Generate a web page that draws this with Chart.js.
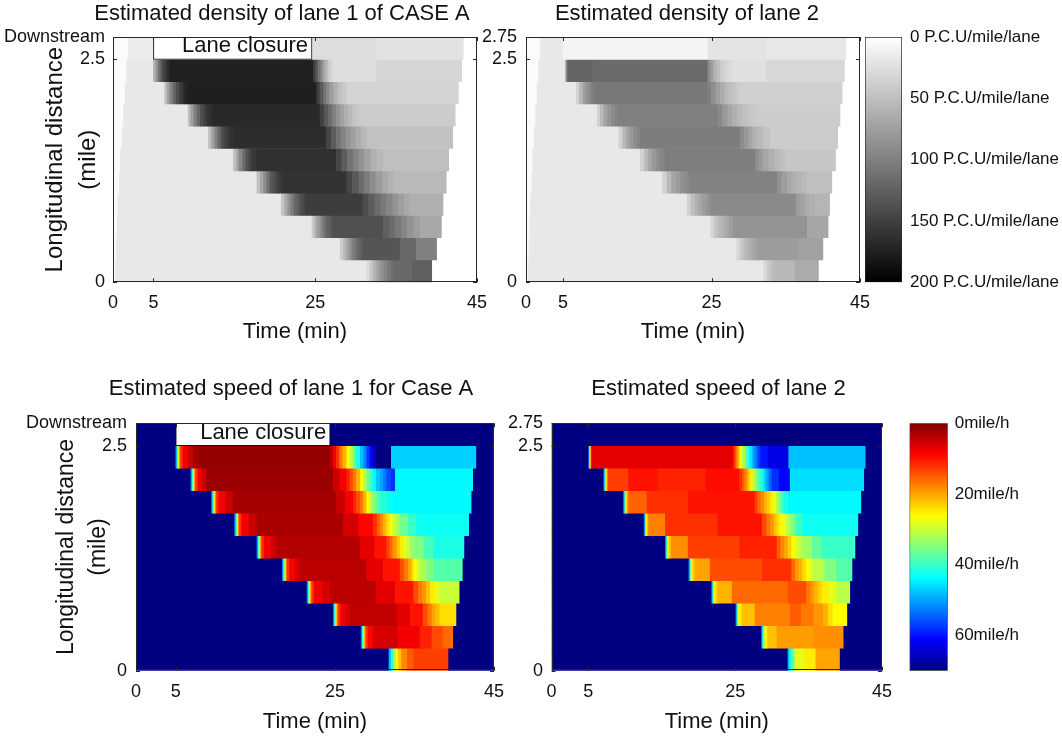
<!DOCTYPE html>
<html>
<head>
<meta charset="utf-8">
<script src="https://cdn.jsdelivr.net/npm/chart.js@4.4.1/dist/chart.umd.min.js"></script>
<style>
  body { margin: 0; background: #fff; }
  #wrap { position: relative; width: 1062px; height: 736px; overflow: hidden; background: #fff; }
  canvas { position: absolute; }
</style>
</head>
<body>
<div id="wrap">
  <canvas id="dens1" width="564" height="345" style="left:0px;top:0px"></canvas>
  <canvas id="dens2" width="414" height="345" style="left:480px;top:0px"></canvas>
  <canvas id="cb1" width="202" height="345" style="left:860px;top:0px"></canvas>
  <canvas id="speed1" width="582" height="386" style="left:0px;top:350px"></canvas>
  <canvas id="speed2" width="477" height="386" style="left:480px;top:350px"></canvas>
  <canvas id="cb2" width="162" height="386" style="left:900px;top:350px"></canvas>
</div>
<script>
// axis ticks
const timeTicks = [0, 5, 25, 45];
const distTicks = [0, 2.5, 2.75];
const densityTicks = [0, 50, 100, 150, 200];
const speedTicks = [0, 20, 40, 60];

// road segments (start mile of each 0.25 mile cell), bottom to top
const segmentMiles = [0, 0.25, 0.5, 0.75, 1, 1.25, 1.5, 1.75, 2, 2.25, 2.5];

// lane closure (minutes), drawn in the top segment
const closureDensity = [5, 24.6];
const closureSpeed = [5, 24.4];

// each row: t0, value, t1, value, ..., tEnd   (minutes; a value holds until the next time)
// density in P.C.U/mile/lane
const densityLane1 = [
  [0,3, 0.3,18, 31.4,30, 31.8,45, 32.2,60, 32.6,72, 33,85, 33.5,96, 33.9,105, 34.3,112, 34.7,118, 37,125, 39.4],
  [0,3, 0.4,18, 28.1,40, 28.5,55, 28.8,70, 29.2,85, 29.5,100, 29.9,110, 30.2,120, 30.6,127, 30.9,133, 35.5,118, 37.5,100, 40],
  [0,3, 0.5,18, 24.6,40, 24.9,58, 25.2,75, 25.6,90, 25.9,105, 26.2,115, 26.5,125, 26.9,132, 27.2,137, 33.4,125, 34.2,115, 34.9,105, 35.7,95, 36.4,85, 37.2,76, 38,68, 40.6],
  [0,3, 0.6,18, 20.8,45, 21.2,65, 21.6,85, 22,103, 22.4,120, 22.8,130, 23.2,140, 23.6,147, 23.9,152, 30.9,140, 31.6,127, 32.4,115, 33.1,105, 33.8,95, 34.6,85, 35.3,75, 36,68, 36.7,62, 40.8],
  [0,3, 0.8,18, 17.8,50, 18.2,70, 18.6,90, 19,110, 19.4,130, 19.8,140, 20.2,150, 20.6,155, 21,160, 28.9,145, 29.6,130, 30.4,115, 31.1,102, 31.8,90, 32.5,78, 33.3,68, 34,61, 34.7,55, 41.2],
  [0,3, 0.9,18, 14.9,50, 15.3,72, 15.6,95, 16,115, 16.4,135, 16.8,145, 17.1,155, 17.5,159, 17.8,162, 27.6,145, 28.3,127, 29,110, 29.7,97, 30.4,85, 31.1,73, 31.9,62, 32.6,56, 33.4,50, 41.5],
  [0,3, 1.1,18, 11.8,50, 12.2,75, 12.6,100, 13,120, 13.4,140, 13.8,150, 14.2,158, 14.6,162, 14.9,165, 26.4,145, 27,127, 27.6,110, 28.2,97, 28.8,85, 29.4,75, 30,65, 30.7,56, 31.4,48, 42],
  [0,3, 1.3,18, 9.3,50, 9.6,75, 10,100, 10.4,120, 10.8,140, 11.2,150, 11.6,160, 12,165, 12.4,168, 25.6,150, 26.1,132, 26.6,115, 27.1,100, 27.6,85, 28.1,73, 28.6,62, 29.1,55, 29.6,48, 30,44, 30.5,40, 42.3],
  [0,3, 1.5,18, 6.4,50, 6.7,72, 7,95, 7.4,118, 7.8,140, 8.2,153, 8.6,165, 8.9,171, 9.2,176, 25.2,150, 25.6,130, 26,110, 26.4,92, 26.8,75, 27.3,62, 27.8,50, 28.3,42, 28.9,34, 42.7],
  [0,3, 1.7,18, 5,60, 5.3,85, 5.6,110, 5.9,132, 6.2,150, 6.6,164, 7,174, 24.8,150, 25.1,130, 25.4,110, 25.7,90, 26,70, 26.3,55, 26.6,40, 26.9,32, 27.2,26, 32.6,32, 43.1],
  [0,3, 1.9,16, 24.6,27, 32.6,23, 43.3]
];

const densityLane2 = [
  [0,3, 0.3,18, 32,30, 32.5,42, 33,50, 33.4,54, 33.9,56, 36.3,66, 39.4],
  [0,3, 0.4,18, 28.4,32, 28.9,45, 29.4,55, 29.9,62, 30.4,68, 30.9,74, 31.4,78, 36.5,74, 40],
  [0,3, 0.5,18, 24.9,32, 25.4,46, 25.9,55, 26.4,62, 26.9,68, 27.4,76, 27.9,84, 37.9,70, 40.7],
  [0,3, 0.6,18, 21.7,35, 22.2,50, 22.8,62, 23.3,70, 23.8,78, 24.4,85, 24.9,92, 36.4,78, 37,72, 37.6,66, 38.2,62, 38.9,58, 40.9],
  [0,3, 0.8,18, 18.4,35, 19,55, 19.6,70, 20.2,78, 20.8,86, 21.4,92, 21.9,98, 33.9,85, 34.5,76, 35.2,68, 35.8,62, 36.5,58, 37.2,54, 37.9,50, 41.2],
  [0,3, 0.9,18, 15.4,35, 16,55, 16.5,70, 17,80, 17.6,90, 18.1,96, 18.7,101, 30.9,88, 31.4,79, 32,70, 32.7,62, 33.5,56, 34.2,50, 34.9,45, 41.7],
  [0,3, 1.1,18, 12.5,35, 13,55, 13.5,70, 14,80, 14.5,90, 15,96, 15.4,102, 28.9,90, 29.4,80, 30,70, 30.5,62, 31,55, 32,47, 32.9,41, 42],
  [0,3, 1.3,18, 9.6,35, 10,55, 10.5,72, 11,82, 11.5,90, 12,96, 12.4,100, 25.9,92, 26.5,80, 27.2,70, 27.8,62, 28.5,55, 29.1,50, 29.7,46, 30.3,43, 30.9,40, 42.3],
  [0,3, 1.5,18, 6.8,35, 7.2,58, 7.7,75, 8.1,86, 8.6,96, 9,101, 9.4,106, 24.5,100, 25,88, 25.6,75, 26.2,65, 26.8,55, 27.3,50, 27.9,45, 28.4,41, 28.9,37, 42.6],
  [0,3, 1.7,18, 5.3,60, 5.45,95, 5.6,121, 9,116, 24.5,90, 24.9,75, 25.3,60, 25.7,50, 26.2,40, 26.6,35, 27.1,30, 27.5,27, 27.9,24, 32.4,31, 42.9],
  [0,3, 1.9,18, 5,9, 24.5,21, 32.4,19, 43.1]
];

// speed in mile/h
const speedLane1 = [
  [0,70, 31.8,48, 32.1,40, 32.4,32, 32.7,26, 33,22, 33.4,18, 34.1,15, 34.9,13, 39.3,70, 45],
  [0,70, 28.3,52, 28.45,40, 28.6,28, 28.75,18, 28.9,12, 29.2,9, 29.8,6, 33,8, 35.7,11, 37.2,14, 38.6,16, 39.9,70, 45],
  [0,70, 24.8,52, 24.95,40, 25.1,28, 25.25,18, 25.4,12, 25.7,8, 26.3,6, 26.9,4.5, 32.8,7, 34.5,10, 36.1,14, 36.7,17, 37.2,20, 37.7,22, 38.2,24, 40.3,70, 45],
  [0,70, 21.5,52, 21.65,40, 21.8,28, 21.95,18, 22.1,12, 22.4,8, 23.4,6, 24.4,4, 30.2,7, 32.6,10, 34.9,14, 35.5,17, 36,19, 36.5,22, 37,25, 37.6,28, 38.2,30, 40.7,70, 45],
  [0,70, 18.4,52, 18.55,40, 18.7,28, 18.85,18, 19,12, 19.3,8, 20,6, 20.6,4, 29,7, 31.1,10, 33.2,14, 33.7,17, 34.2,20, 34.6,23, 34.9,26, 35.3,29, 35.7,32, 36.5,35, 37.4,38, 41.1,70, 45],
  [0,70, 15.2,52, 15.35,40, 15.5,28, 15.65,18, 15.8,12, 16.1,8, 17,5.5, 17.7,3.5, 28.2,7, 30,10, 31.5,13, 31.9,16, 32.3,19, 32.8,22, 33.2,25, 33.6,28, 34,30, 34.5,33, 35,35, 36.2,39, 37.4,42, 41.3,70, 45],
  [0,70, 12.4,52, 12.55,40, 12.7,28, 12.85,18, 13,12, 13.3,8, 14.2,5, 15.2,3, 26.1,6, 28,9, 29.8,12, 30.3,15, 30.7,18, 31.1,21, 31.5,24, 31.9,27, 32.3,30, 32.8,33, 33.2,36, 34.2,40, 35.3,43, 41.9,70, 45],
  [0,70, 9.5,52, 9.65,40, 9.8,28, 9.95,18, 10.1,12, 10.4,8, 11.3,5, 12.2,2.5, 25.2,5, 26.3,8, 27.3,11, 27.7,14, 28.2,17, 28.6,21, 29,26, 29.4,31, 29.8,35, 30.3,39, 30.7,41, 31.5,43, 32.3,44, 42.2,70, 45],
  [0,70, 6.9,52, 7.05,40, 7.2,28, 7.35,18, 7.5,12, 7.8,8, 8.3,5, 8.9,2, 24.8,5, 25.6,8, 26.5,11, 26.9,14, 27.3,17, 27.7,21, 28.2,26, 28.6,31, 29,36, 29.4,40, 29.8,44, 30.2,48, 30.7,50, 31.1,53, 31.5,56, 32.1,58, 32.6,44, 42.4,70, 45],
  [0,70, 5,52, 5.15,40, 5.3,28, 5.45,18, 5.6,12, 5.9,8, 6.5,5, 7.2,2.5, 8,1.5, 24.4,4, 24.8,8, 25.2,12, 25.6,17, 26,21, 26.5,26, 26.9,31, 27.3,36, 27.7,42, 28.2,48, 28.6,52, 29,57, 29.4,61, 29.8,66, 30.2,70, 32.1,47, 42.8,70, 45],
  [0,70, 45]
];

const speedLane2 = [
  [0,70, 32.2,48, 32.45,42, 32.7,38, 32.95,32, 33.2,28, 34.5,25, 36,20, 39.3,70, 45],
  [0,70, 28.6,52, 28.75,40, 28.9,30, 29.1,26, 29.4,22, 30.7,19.5, 35.7,18.5, 39.8,70, 45],
  [0,70, 25.1,52, 25.25,40, 25.4,28, 25.6,25, 25.9,22, 27.7,17.5, 32.5,15, 34,17, 35.7,19, 37,21, 37.7,24, 38.3,26, 40.3,70, 45],
  [0,70, 21.8,52, 21.95,40, 22.1,27, 22.3,24, 22.6,21, 24.6,16, 32.2,14, 34.7,17, 35.3,19, 35.8,21, 36.3,23, 36.8,25, 37.8,28, 38.8,31, 40.7,70, 45],
  [0,70, 18.7,52, 18.85,40, 19,26, 19.2,23, 19.5,20, 21.6,14, 28.7,12, 32.7,16, 33.2,19, 33.7,21, 34.2,24, 34.7,26, 35.2,29, 35.7,31, 37.2,35, 38.8,38, 41,70, 45],
  [0,70, 15.5,52, 15.65,40, 15.8,26, 16,22, 16.3,18.5, 18.6,13, 25.6,11, 30.7,15, 31.2,18, 31.7,20, 32.2,23, 32.7,26, 33.2,29, 33.7,31, 34.2,33, 35.5,37, 36.8,40, 41.4,70, 45],
  [0,70, 12.6,52, 12.75,40, 12.9,26, 13.05,21, 13.2,17.5, 15.5,12, 22.6,10, 28.7,14, 29.3,17, 29.8,19, 30.3,22, 30.7,24, 31.1,26, 31.5,28, 32,31, 32.5,34, 33,37, 33.4,40, 34.2,43, 41.8,70, 45],
  [0,70, 9.8,52, 9.95,40, 10.1,26, 10.25,20, 10.5,15.5, 13,12, 18.6,10, 27.7,13, 28.1,16, 28.5,18, 29,21, 29.4,23, 29.8,25, 30.2,27, 30.6,32, 31,36, 31.4,40, 31.7,42, 32.2,44, 42.2,70, 45],
  [0,70, 7.1,52, 7.25,40, 7.4,26, 7.55,18, 7.7,13, 10.5,10, 14.5,11, 21,9.5, 25.6,12, 26,15, 26.3,18, 26.7,22, 27,25, 27.4,30, 27.7,34, 28.1,38, 28.5,42, 28.9,46, 29.2,50, 29.6,54, 30,58, 31,61, 32.5,46, 42.6,70, 45],
  [0,70, 5.05,52, 5.15,40, 5.25,26, 5.35,14, 5.45,7, 24.6,9, 24.85,13, 25.1,17, 25.35,21, 25.6,26, 26,32, 26.4,38, 26.8,43, 27.1,46, 27.4,50, 27.7,53, 28.1,57, 28.5,60, 29.5,63, 32.3,48, 42.8,70, 45],
  [0,70, 45]
];

const FONT = '"Liberation Sans", Arial, Helvetica, sans-serif';
Chart.defaults.font.family = FONT;
Chart.defaults.color = '#111';
Chart.defaults.animation = false;
Chart.defaults.events = [];
Chart.defaults.plugins.legend.display = false;
Chart.defaults.plugins.tooltip.enabled = false;

function grayColor(d) {
  const g = Math.round(255 * (1 - Math.min(Math.max(d / 200, 0), 1)));
  return `rgb(${g},${g},${g})`;
}

function jetColor(s) {
  const v = 1 - Math.min(Math.max(s / 70, 0), 1);
  const c = (x) => Math.round(255 * Math.min(Math.max(x, 0), 1));
  return `rgb(${c(1.5 - Math.abs(4 * v - 3))},${c(1.5 - Math.abs(4 * v - 2))},${c(1.5 - Math.abs(4 * v - 1))})`;
}

function cells(rows) {
  const out = [];
  rows.forEach((row, r) => {
    for (let i = 0; i + 2 < row.length; i += 2) {
      out.push({ x: [row[i], row[i + 2]], y: segmentMiles[r] + 0.125, v: row[i + 1] });
    }
  });
  return out;
}

const frame = {
  id: 'frame',
  afterDatasetsDraw(chart, args, opts) {
    const { ctx, chartArea: a, scales } = chart;
    ctx.save();
    ctx.strokeStyle = '#262626';
    ctx.lineWidth = 1;
    ctx.beginPath();
    scales.x.ticks.forEach(t => {
      const px = Math.round(scales.x.getPixelForValue(t.value)) + 0.5;
      ctx.moveTo(px, a.bottom); ctx.lineTo(px, a.bottom - 4);
      ctx.moveTo(px, a.top); ctx.lineTo(px, a.top + 4);
    });
    scales.y.ticks.forEach(t => {
      const py = Math.round(scales.y.getPixelForValue(t.value)) + 0.5;
      ctx.moveTo(a.left, py); ctx.lineTo(a.left + 4, py);
      ctx.moveTo(a.right, py); ctx.lineTo(a.right - 4, py);
    });
    ctx.stroke();
    ctx.strokeRect(Math.round(a.left) + 0.5, Math.round(a.top) + 0.5, Math.round(a.width) - 1, Math.round(a.height) - 1);
    if (opts.closure) {
      const right = scales.x.getPixelForValue(opts.closure[1]);
      const bottom = scales.y.getPixelForValue(segmentMiles[10]);
      ctx.fillStyle = '#111';
      ctx.font = '22px ' + FONT;
      ctx.textAlign = 'right';
      ctx.textBaseline = 'alphabetic';
      ctx.fillText(opts.text, right - 4, bottom - 7);
    }
    ctx.restore();
  }
};

function panel(id, cfg) {
  const boxData = cfg.closure ? [{ x: cfg.closure, y: segmentMiles[10] + 0.125 }] : [];
  return new Chart(document.getElementById(id), {
    type: 'bar',
    data: {
      datasets: [
        { data: boxData, xAxisID: 'x', yAxisID: 'y', backgroundColor: '#fff', borderColor: '#111', borderWidth: 1, borderSkipped: false },
        { data: cells(cfg.rows), xAxisID: 'x', yAxisID: 'y', backgroundColor: c => c.raw ? cfg.color(c.raw.v) : '#fff', borderWidth: 0 }
      ]
    },
    options: {
      indexAxis: 'y',
      responsive: false,
      datasets: { bar: { grouped: false, barPercentage: 1, categoryPercentage: 1, clip: 0 } },
      layout: { padding: { left: 0, right: 0, top: 0, bottom: 0 } },
      plugins: {
        title: {
          display: true, text: cfg.title, align: 'center', fullSize: true, color: '#111',
          font: { size: 22, weight: 'normal' }, padding: cfg.titlePad
        },
        frame: { closure: cfg.closure || null, text: 'Lane closure' }
      },
      scales: {
        x: {
          type: 'linear', min: 0, max: 45,
          afterBuildTicks: s => { s.ticks = timeTicks.map(v => ({ value: v })); },
          afterFit: s => { s.height = cfg.xh; },
          grid: { display: false, drawTicks: false },
          border: { display: false },
          ticks: { font: { size: 18 }, padding: cfg.xpad, maxRotation: 0, autoSkip: false, color: '#111' },
          title: { display: true, text: 'Time (min)', font: { size: 22 }, color: '#111', padding: { top: 0, bottom: cfg.xtb } }
        },
        y: {
          type: 'linear', position: 'left', min: 0, max: 2.75, offset: false,
          afterBuildTicks: s => { s.ticks = distTicks.map(v => ({ value: v })); },
          afterFit: s => { s.width = cfg.yw; },
          grid: { display: false, drawTicks: false },
          border: { display: false },
          ticks: {
            font: { size: 18 }, padding: cfg.ypad, autoSkip: false, color: '#111',
            callback: v => (v === 2.75 && cfg.downstream) ? 'Downstream' : String(v)
          },
          title: cfg.ytitle
            ? { display: true, text: ['Longitudinal distance', '(mile)'], color: '#111',
                font: { size: cfg.ytitle.size, lineHeight: cfg.ytitle.lh + 'px' }, padding: { top: cfg.ytitle.pad, bottom: 0 } }
            : { display: false }
        },
        // empty right-hand margin so the panel title sits where the figure has it
        margin: {
          type: 'linear', axis: 'y', position: 'right', min: 0, max: 2.75,
          afterFit: s => { s.width = cfg.rw; },
          ticks: { display: false }, grid: { display: false, drawTicks: false }, border: { display: false }
        }
      }
    },
    plugins: [frame]
  });
}

function colorbar(id, cfg) {
  const gradient = (c) => {
    const chart = c.chart;
    if (!chart.chartArea) return null;
    const y = chart.scales.y;
    const g = chart.ctx.createLinearGradient(0, y.getPixelForValue(0), 0, y.getPixelForValue(cfg.max));
    for (let i = 0; i <= 16; i++) g.addColorStop(i / 16, cfg.color(cfg.max * i / 16));
    return g;
  };
  return new Chart(document.getElementById(id), {
    type: 'bar',
    data: {
      labels: [''],
      datasets: [{
        data: [[0, cfg.max]], backgroundColor: gradient, borderColor: '#262626', borderWidth: 1,
        borderSkipped: false, barPercentage: 1, categoryPercentage: 1
      }]
    },
    options: {
      responsive: false,
      layout: { padding: cfg.pad },
      scales: {
        x: { display: false },
        y: {
          position: 'right', reverse: true, min: 0, max: cfg.max,
          afterBuildTicks: s => { s.ticks = cfg.ticks.map(v => ({ value: v })); },
          afterFit: s => { s.width = cfg.yw; },
          grid: { display: false, drawTicks: false },
          border: { display: false },
          ticks: { font: { size: 17 }, padding: cfg.tpad, color: '#111', callback: v => v + cfg.unit }
        }
      }
    }
  });
}

panel('dens1', {
  rows: densityLane1, color: grayColor, closure: closureDensity, downstream: true,
  title: 'Estimated density of lane 1 of CASE A', titlePad: { top: 0.8, bottom: 9.8 },
  yw: 113, rw: 87, xh: 62.7, xpad: 10, xtb: 0, ypad: 8,
  ytitle: { size: 24, lh: 33, pad: 38.5 }
});

panel('dens2', {
  rows: densityLane2, color: grayColor, downstream: false,
  title: 'Estimated density of lane 2', titlePad: { top: 0.8, bottom: 9.8 },
  yw: 46, rw: 34, xh: 62.7, xpad: 10, xtb: 0, ypad: 9, ytitle: null
});

colorbar('cb1', {
  max: 200, ticks: densityTicks, unit: ' P.C.U/mile/lane', color: grayColor,
  pad: { left: 5, right: 0, top: 37, bottom: 62.7 }, yw: 160, tpad: 8
});

panel('speed1', {
  rows: speedLane1, color: jetColor, closure: closureSpeed, downstream: true,
  title: 'Estimated speed of lane 1 for Case A', titlePad: { top: 25.8, bottom: 21.1 },
  yw: 136, rw: 88, xh: 65.3, xpad: 11, xtb: 0.8, ypad: 9,
  ytitle: { size: 23, lh: 32, pad: 51 }
});

panel('speed2', {
  rows: speedLane2, color: jetColor, downstream: false,
  title: 'Estimated speed of lane 2', titlePad: { top: 25.8, bottom: 21.1 },
  yw: 71.6, rw: 75, xh: 65.3, xpad: 11, xtb: 0.8, ypad: 8.6, ytitle: null
});

colorbar('cb2', {
  max: 70, ticks: speedTicks, unit: 'mile/h', color: jetColor,
  pad: { left: 9.5, right: 0, top: 73.3, bottom: 65.3 }, yw: 114.3, tpad: 7
});
</script>
</body>
</html>
